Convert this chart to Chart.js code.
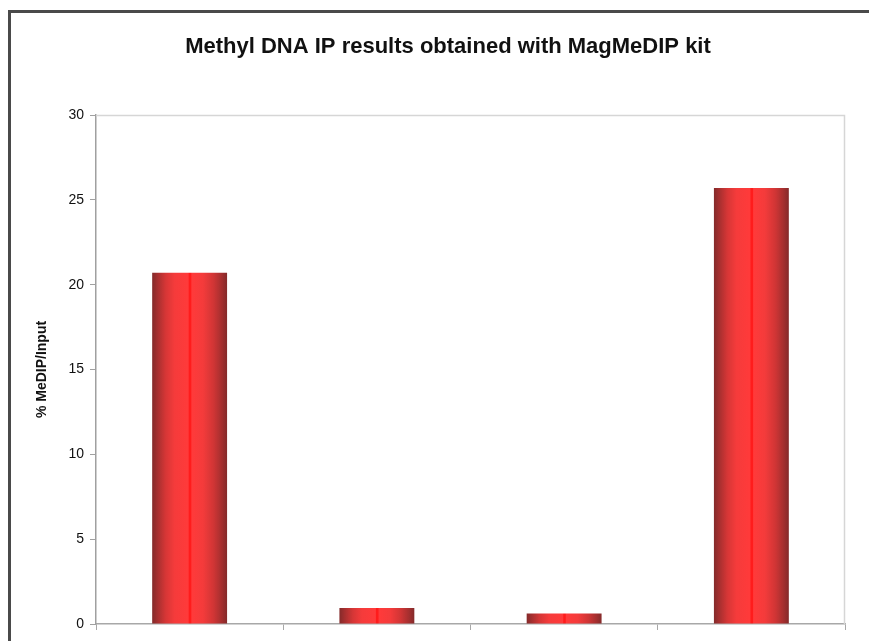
<!DOCTYPE html>
<html>
<head>
<meta charset="utf-8">
<script src="https://cdn.jsdelivr.net/npm/chart.js@4.4.1/dist/chart.umd.min.js"></script>
<style>
  html, body { margin: 0; padding: 0; background: #ffffff; overflow: hidden; width: 869px; height: 641px; }
  #frame { position: absolute; left: 8px; top: 10px; width: 880px; height: 696px; border: 3px solid #4a4a4a; box-sizing: border-box; background: #fff; }
  #c { position: absolute; left: 0; top: 0; }
</style>
</head>
<body>
<div id="frame"><canvas id="c" width="874" height="690"></canvas></div>
<script>
// ---- data ----
const chartTitle = "Methyl DNA IP results obtained with MagMeDIP kit";
const yAxisTitle = "% MeDIP/Input";
const categories = ["1", "2", "3", "4"];
const medipValues = [20.7, 0.95, 0.62, 25.7];
const yTicks = [0, 5, 10, 15, 20, 25, 30];

const FONT = "'Liberation Sans', Arial, sans-serif";

function barFill(ctx) {
  const chart = ctx.chart;
  const xs = chart.scales && chart.scales.x;
  if (!xs || ctx.dataIndex === undefined || !xs.width) return '#e83434';
  const cx = xs.getPixelForValue(ctx.dataIndex);
  const w = (xs.width / categories.length) * 0.4;
  const g = chart.ctx.createLinearGradient(cx - w / 2, 0, cx + w / 2, 0);
  g.addColorStop(0.00, '#842a2a');
  g.addColorStop(0.07, '#a52f2f');
  g.addColorStop(0.18, '#d63636');
  g.addColorStop(0.30, '#f53b3b');
  g.addColorStop(0.48, '#ff3a3a');
  g.addColorStop(0.495, '#ff1c1c');
  g.addColorStop(0.515, '#ff1c1c');
  g.addColorStop(0.53, '#ff3a3a');
  g.addColorStop(0.68, '#f43b3b');
  g.addColorStop(0.82, '#d03535');
  g.addColorStop(0.93, '#a42f2f');
  g.addColorStop(1.00, '#842a2a');
  return g;
}

const plotBorder = {
  id: 'plotBorder',
  beforeDatasetsDraw(chart) {
    const a = chart.chartArea, c = chart.ctx;
    c.save();
    c.strokeStyle = '#d6d6d6';
    c.lineWidth = 1.5;
    c.beginPath();
    c.moveTo(a.left, a.top + 0.5);
    c.lineTo(a.right - 0.5, a.top + 0.5);
    c.lineTo(a.right - 0.5, a.bottom);
    c.stroke();
    c.restore();
  }
};

new Chart(document.getElementById('c'), {
  type: 'bar',
  data: {
    labels: categories,
    datasets: [{
      data: medipValues,
      backgroundColor: barFill,
      borderWidth: 0,
      barPercentage: 0.4,
      categoryPercentage: 1.0
    }]
  },
  options: {
    responsive: false,
    animation: false,
    events: [],
    layout: { padding: { left: 0, right: 0, top: 0, bottom: 49 } },
    plugins: {
      legend: { display: false },
      tooltip: { enabled: false },
      title: {
        display: true,
        text: chartTitle,
        color: '#111111',
        font: { family: FONT, size: 22, weight: 'bold', lineHeight: 1.2 },
        padding: { top: 21, bottom: 54.6 }
      }
    },
    scales: {
      x: {
        type: 'category',
        grid: { display: true, offset: true, drawOnChartArea: false, drawTicks: true, tickLength: 6, color: '#a8a8a8', lineWidth: 1 },
        border: { display: true, color: '#a8a8a8', width: 1.5 },
        ticks: { display: false },
        afterFit(s) { s.height = 30; }
      },
      y: {
        min: 0, max: 30,
        afterBuildTicks(s) { s.ticks = yTicks.map(v => ({ value: v })); },
        grid: { display: true, drawOnChartArea: false, drawTicks: true, tickLength: 6, color: '#a0a0a0', lineWidth: 1 },
        border: { display: true, color: '#a0a0a0', width: 1.5 },
        ticks: { color: '#111', font: { family: FONT, size: 14 }, padding: 6 },
        title: { display: true, text: yAxisTitle, color: '#111111', font: { family: FONT, size: 14, weight: 'bold' }, padding: { top: 23, bottom: 0 } },
        afterFit(s) { s.width = 85; }
      },
      yRight: {
        position: 'right',
        display: true,
        min: 0, max: 1,
        grid: { display: false },
        border: { display: false },
        ticks: { display: false },
        afterFit(s) { s.width = 40; }
      }
    }
  },
  plugins: [plotBorder]
});
</script>
</body>
</html>
